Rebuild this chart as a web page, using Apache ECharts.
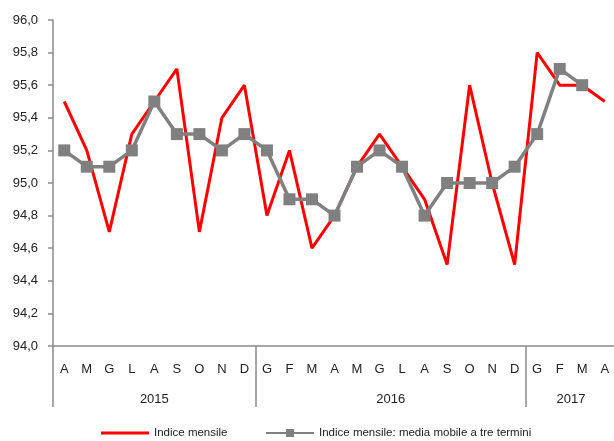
<!DOCTYPE html>
<html>
<head>
<meta charset="utf-8">
<script src="https://cdn.jsdelivr.net/npm/echarts@6/dist/echarts.min.js"></script>
<style>
  html, body { margin: 0; padding: 0; background: #fff; }
  #chart { width: 614px; height: 441px; }
</style>
</head>
<body>
<div id="chart"></div>
<script>
const months = ['A', 'M', 'G', 'L', 'A', 'S', 'O', 'N', 'D',
  'G', 'F', 'M', 'A', 'M', 'G', 'L', 'A', 'S', 'O', 'N', 'D',
  'G', 'F', 'M', 'A']
const years = ['2015', '2016', '2017']
const monthsPerYear = [9, 12, 4]

const indiceMensile = [95.5, 95.2, 94.7, 95.3, 95.5, 95.7, 94.7, 95.4, 95.6,
  94.8, 95.2, 94.6, 94.8, 95.1, 95.3, 95.1, 94.9, 94.5, 95.6, 95.0, 94.5,
  95.8, 95.6, 95.6, 95.5]
const mediaMobile = [95.2, 95.1, 95.1, 95.2, 95.5, 95.3, 95.3, 95.2, 95.3,
  95.2, 94.9, 94.9, 94.8, 95.1, 95.2, 95.1, 94.8, 95.0, 95.0, 95.0, 95.1,
  95.3, 95.7, 95.6, null]

const nameMensile = 'Indice mensile'
const nameMedia = 'Indice mensile: media mobile a tre termini'

// year group boundaries and centres on a 0..n value scale
const bounds = [0]
monthsPerYear.forEach((n) => bounds.push(bounds[bounds.length - 1] + n))
const centres = years.map((y, i) => (bounds[i] + bounds[i + 1]) / 2)

const axisGray = '#8a8a8a'
const font = 'Liberation Sans, Arial, sans-serif'
const legendText = { fontFamily: 'Liberation Sans Narrow, Arial Narrow, sans-serif', fontSize: 11.5, color: '#222' }

const chart = echarts.init(document.getElementById('chart'))
chart.setOption({
  animation: false,
  textStyle: { fontFamily: font },
  grid: { left: 53, top: 20, width: 563, bottom: 95, containLabel: false, outerBoundsMode: 'none' },
  legend: [
    {
      left: 96,
      top: 422,
      icon: 'rect',
      itemWidth: 48,
      itemHeight: 3,
      textStyle: legendText,
      data: [nameMensile],
    },
    {
      left: 260,
      top: 422,
      itemWidth: 48,
      itemHeight: 10,
      textStyle: legendText,
      data: [nameMedia],
    },
  ],
  xAxis: [
    {
      type: 'category',
      data: months,
      boundaryGap: true,
      axisLine: { lineStyle: { color: axisGray, width: 1.5 } },
      axisTick: { show: false },
      axisLabel: { color: '#222', fontSize: 13, margin: 17, interval: 0 },
    },
    {
      type: 'value',
      position: 'bottom',
      min: 0,
      max: bounds[bounds.length - 1],
      splitLine: { show: false },
      axisLine: { show: false },
      axisTick: { show: true, length: 61, customValues: bounds.slice(0, -1), lineStyle: { color: axisGray, width: 1.5 } },
      axisLabel: {
        color: '#222',
        fontSize: 13,
        margin: 47,
        customValues: centres,
        formatter: (v) => years[centres.indexOf(v)] ?? '',
      },
    },
  ],
  yAxis: {
    type: 'value',
    min: 94,
    max: 96,
    interval: 0.2,
    splitLine: { show: false },
    axisLine: { show: true, onZero: false, lineStyle: { color: axisGray, width: 1.5 } },
    axisTick: { show: true, length: 5, lineStyle: { color: axisGray, width: 1.5 } },
    axisLabel: {
      color: '#222',
      fontSize: 13,
      margin: 15,
      formatter: (v) => v.toFixed(1).replace('.', ','),
    },
  },
  series: [
    {
      name: nameMensile,
      type: 'line',
      data: indiceMensile,
      symbol: 'none',
      lineStyle: { color: '#ff0000', width: 3 },
      itemStyle: { color: '#ff0000' },
      z: 2,
    },
    {
      name: nameMedia,
      type: 'line',
      data: mediaMobile,
      symbol: 'rect',
      symbolSize: 12,
      lineStyle: { color: '#808080', width: 3.5 },
      itemStyle: { color: '#808080' },
      z: 3,
    },
  ],
})
</script>
</body>
</html>
